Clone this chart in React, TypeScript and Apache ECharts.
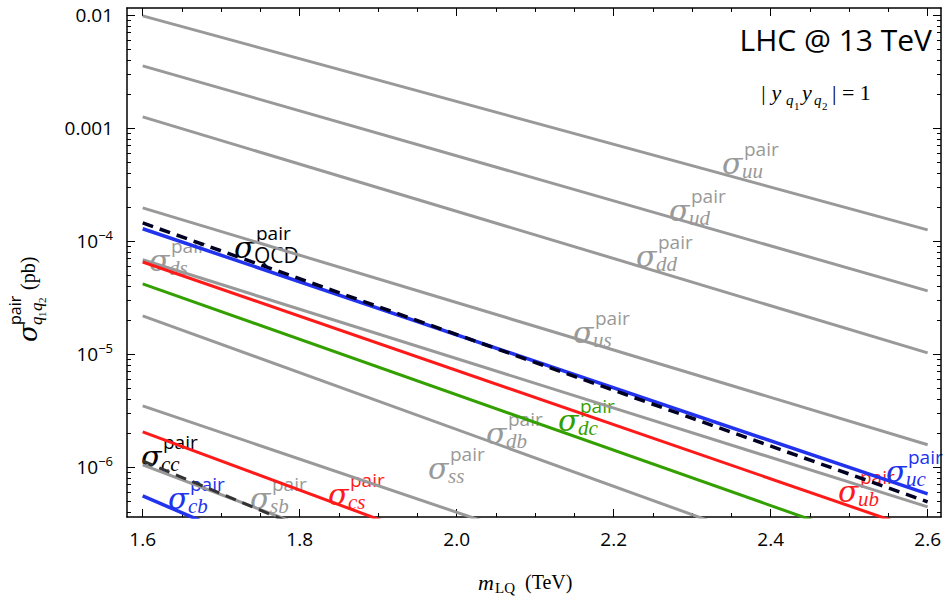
import React, { useEffect, useRef } from "react";
import * as echarts from "echarts";

const xEnds = [1.6, 2.6];
const sUU = [9.8e-3, 1.25e-4];
const sUD = [3.54e-3, 3.61e-5];
const sDD = [1.25e-3, 1.02e-5];
const sUS = [1.96e-4, 1.57e-6];
const sQCD = [1.44e-4, 4.9e-7];
const sUC = [1.28e-4, 5.77e-7];
const sDS = [6.8e-5, 4.43e-7];
const sUB = [6.5e-5, 2.6e-7];
const sDC = [4.16e-5, 1.47e-7];
const sDB = [2.17e-5, 6.65e-8];
const sSS = [3.47e-6, 1.53e-8];
const sCS = [2.04e-6, 5.4e-9];
const sCC = [1.13e-6, 1.39e-9];
const sSB = [1.04e-6, 2.4e-9];
const sCB = [5.53e-7, 5.8e-10];

const xTicks = [1.6, 1.8, 2.0, 2.2, 2.4, 2.6];
const xMinor = [1.6, 1.65, 1.7, 1.75, 1.8, 1.85, 1.9, 1.95, 2.0, 2.05, 2.1, 2.15, 2.2, 2.25, 2.3, 2.35, 2.4, 2.45, 2.5, 2.55, 2.6];
const yTicks = [1e-6, 1e-5, 1e-4, 1e-3, 1e-2];
const yMinor: number[] = [];
for (let e = -7; e <= -2; e++) for (let k = 2; k <= 9; k++) yMinor.push(k * Math.pow(10, e));

const GRAY = "#999999";
const RED = "#ff1a1a";
const GREEN = "#33a000";
const BLUE = "#2233ee";

const pts = (v: number[]) => xEnds.map((x, i) => [x, v[i]]);

export default function App() {
  const ref = useRef<HTMLDivElement>(null);
  useEffect(() => {
    const chart = echarts.init(ref.current!, null, { renderer: "svg" });
    const ln = (name: string, v: number[], color: string, width = 3, type: any = "solid", z = 2) => ({
      name, type: "line", data: pts(v), symbol: "none", clip: true, z,
      lineStyle: { color, width, type },
    });
    const lab = (x: number, y: number, sub: string, color: string, italic = true) => ({
      type: "group", x, y, children: [
        { type: "text", x: 0, y: 0, style: { text: "σ", font: "italic 30px 'DejaVu Serif'", fill: color, textVerticalAlign: "middle" } },
        { type: "text", x: 20, y: 8, style: { text: sub, font: (italic ? "italic " : "") + "21px " + (italic ? "'Liberation Serif'" : "'Open Sans'"), fill: color, textVerticalAlign: "middle" } },
        { type: "text", x: 22, y: -14, style: { text: "pair", font: "19px 'Open Sans'", fill: color, textVerticalAlign: "middle" } },
      ],
    });
    const supFmt = (v: number) => {
      const e = Math.round(Math.log10(v));
      if (e >= -3) return e === -2 ? "0.01" : "0.001";
      return "{b|10}{s|" + "−" + (-e) + "}";
    };
    const axisLine = { show: true, lineStyle: { color: "#000", width: 1.5 } };
    chart.setOption({
      animation: false,
      grid: { left: 127, right: 2, top: 8, bottom: 93 },
      xAxis: [
        { type: "value", min: 1.58, max: 2.617, position: "bottom", axisLine, splitLine: { show: false },
          axisTick: { inside: true, length: 8, customValues: xTicks, lineStyle: { color: "#000" } },
          axisLabel: { customValues: xTicks, formatter: (v: number) => v.toFixed(1), fontFamily: "'Open Sans'", fontSize: 19, color: "#000", margin: 12 } },
        { type: "value", min: 1.58, max: 2.617, position: "bottom", axisLine: { show: false }, splitLine: { show: false },
          axisTick: { inside: true, length: 4, customValues: xMinor, lineStyle: { color: "#000" } }, axisLabel: { show: false } },
        { type: "value", min: 1.58, max: 2.617, position: "top", axisLine, splitLine: { show: false },
          axisTick: { inside: true, length: 8, customValues: xTicks, lineStyle: { color: "#000" } }, axisLabel: { show: false } },
        { type: "value", min: 1.58, max: 2.617, position: "top", axisLine: { show: false }, splitLine: { show: false },
          axisTick: { inside: true, length: 4, customValues: xMinor, lineStyle: { color: "#000" } }, axisLabel: { show: false } },
      ],
      yAxis: [
        { type: "log", min: 3.6e-7, max: 0.0115, position: "left", axisLine, splitLine: { show: false },
          axisTick: { inside: true, length: 8, customValues: yTicks, lineStyle: { color: "#000" } },
          axisLabel: { customValues: yTicks, formatter: supFmt, fontFamily: "'Open Sans'", fontSize: 19, color: "#000", margin: 14,
            rich: { b: { fontFamily: "'Open Sans'", fontSize: 19, color: "#000" }, s: { fontFamily: "'Open Sans'", fontSize: 13, color: "#000", verticalAlign: "top", padding: [0, 0, 12, 0] } } } },
        { type: "log", min: 3.6e-7, max: 0.0115, position: "left", axisLine: { show: false }, splitLine: { show: false },
          axisTick: { inside: true, length: 4, customValues: yMinor, lineStyle: { color: "#000" } }, axisLabel: { show: false } },
        { type: "log", min: 3.6e-7, max: 0.0115, position: "right", axisLine, splitLine: { show: false },
          axisTick: { inside: true, length: 8, customValues: yTicks, lineStyle: { color: "#000" } }, axisLabel: { show: false } },
        { type: "log", min: 3.6e-7, max: 0.0115, position: "right", axisLine: { show: false }, splitLine: { show: false },
          axisTick: { inside: true, length: 4, customValues: yMinor, lineStyle: { color: "#000" } }, axisLabel: { show: false } },
      ],
      series: [
        ln("uu", sUU, GRAY), ln("ud", sUD, GRAY), ln("dd", sDD, GRAY), ln("us", sUS, GRAY),
        ln("ds", sDS, GRAY), ln("db", sDB, GRAY), ln("ss", sSS, GRAY), ln("sb", sSB, GRAY),
        ln("ub", sUB, RED), ln("cs", sCS, RED), ln("dc", sDC, GREEN),
        ln("uc", sUC, BLUE, 3.5), ln("cb", sCB, BLUE, 3.5),
        ln("QCD", sQCD, "#000022", 3.5, [11, 7], 3), ln("cc", sCC, "#333333", 3, [11, 7], 3),
      ],
      graphic: [
        { type: "text", right: 12, top: 24, style: { text: "LHC @ 13 TeV", font: "30px 'Open Sans'", fill: "#000" } },
        { type: "text", x: 760, y: 92, style: { text: "| y", font: "italic 22px 'Liberation Serif'", fill: "#000", textVerticalAlign: "middle" } },
        { type: "text", x: 786, y: 100, style: { text: "q", font: "italic 15px 'Liberation Serif'", fill: "#000", textVerticalAlign: "middle" } },
        { type: "text", x: 794, y: 106, style: { text: "1", font: "11px 'Liberation Serif'", fill: "#000", textVerticalAlign: "middle" } },
        { type: "text", x: 802, y: 92, style: { text: "y", font: "italic 22px 'Liberation Serif'", fill: "#000", textVerticalAlign: "middle" } },
        { type: "text", x: 814, y: 100, style: { text: "q", font: "italic 15px 'Liberation Serif'", fill: "#000", textVerticalAlign: "middle" } },
        { type: "text", x: 822, y: 106, style: { text: "2", font: "11px 'Liberation Serif'", fill: "#000", textVerticalAlign: "middle" } },
        { type: "text", x: 832, y: 92, style: { text: "| = 1", font: "22px 'Liberation Serif'", fill: "#000", textVerticalAlign: "middle" } },
        { type: "group", x: 28, y: 270, rotation: Math.PI / 2, children: [
          { type: "text", x: -72, y: 0, style: { text: "σ", font: "italic 26px 'DejaVu Serif'", fill: "#000", textVerticalAlign: "middle" } },
          { type: "text", x: -55, y: -13, style: { text: "pair", font: "16px 'Open Sans'", fill: "#000", textVerticalAlign: "middle" } },
          { type: "text", x: -55, y: 8, style: { text: "q", font: "italic 17px 'Liberation Serif'", fill: "#000", textVerticalAlign: "middle" } },
          { type: "text", x: -47, y: 14, style: { text: "1", font: "11px 'Liberation Serif'", fill: "#000", textVerticalAlign: "middle" } },
          { type: "text", x: -41, y: 8, style: { text: "q", font: "italic 17px 'Liberation Serif'", fill: "#000", textVerticalAlign: "middle" } },
          { type: "text", x: -33, y: 14, style: { text: "2", font: "11px 'Liberation Serif'", fill: "#000", textVerticalAlign: "middle" } },
          { type: "text", x: -20, y: 0, style: { text: "(pb)", font: "20px 'Liberation Serif'", fill: "#000", textVerticalAlign: "middle" } },
        ] },
        { type: "text", x: 478, y: 582, style: { text: "m", font: "italic 22px 'Liberation Serif'", fill: "#000", textVerticalAlign: "middle" } },
        { type: "text", x: 495, y: 588, style: { text: "LQ", font: "15px 'Liberation Serif'", fill: "#000", textVerticalAlign: "middle" } },
        { type: "text", x: 525, y: 582, style: { text: "(TeV)", font: "20px 'Liberation Serif'", fill: "#000", textVerticalAlign: "middle" } },
        lab(722, 163, "uu", GRAY), lab(669, 210, "ud", GRAY), lab(636, 256, "dd", GRAY), lab(573, 332, "us", GRAY),
        lab(234, 247, "QCD", "#000", false), lab(149, 260, "ds", GRAY), lab(486, 433, "db", GRAY),
        lab(558, 420, "dc", GREEN), lab(838, 491, "ub", RED), lab(886, 471, "uc", BLUE),
        lab(141, 456, "cc", "#000"), lab(168, 498, "cb", BLUE), lab(250, 498, "sb", GRAY),
        lab(328, 494, "cs", RED), lab(428, 468, "ss", GRAY),
      ],
    });
    return () => chart.dispose();
  }, []);
  return <div ref={ref} style={{ position: "absolute", left: 0, top: 0, width: 944, height: 610, background: "#fff" }} />;
}
